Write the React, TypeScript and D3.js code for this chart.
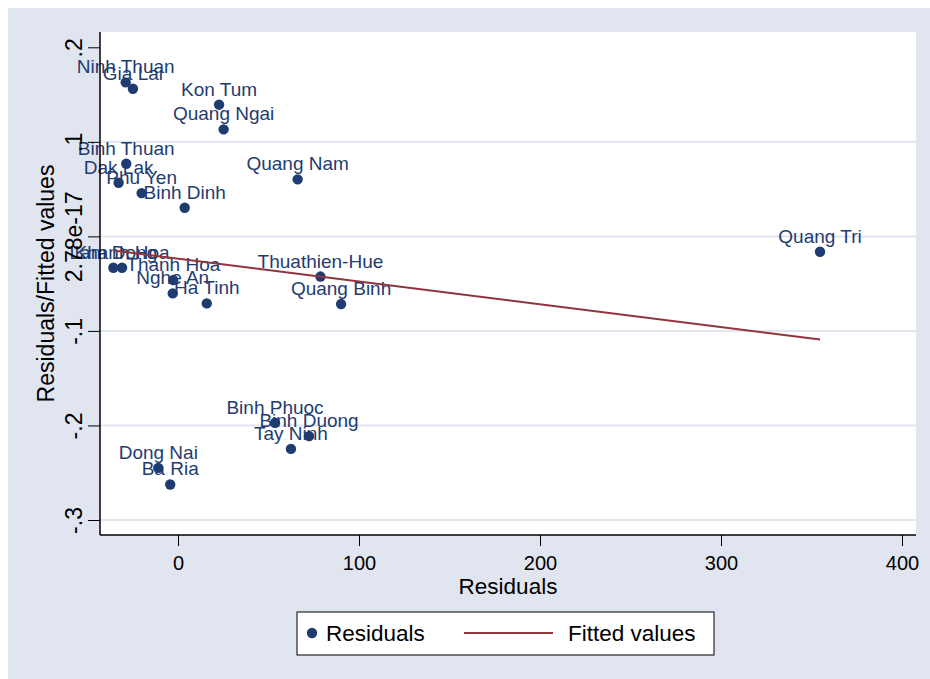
import React, { useEffect, useRef } from 'react';
import * as d3 from 'd3';

const provinces = [
  'Ninh Thuan', 'Gia Lai', 'Kon Tum', 'Quang Ngai', 'Binh Thuan', 'Dak Lak', 'Phu Yen',
  'Binh Dinh', 'Quang Nam', 'Quang Tri', 'Lam Dong', 'Khanh Hoa', 'Thanh Hoa', 'Nghe An',
  'Ha Tinh', 'Thuathien-Hue', 'Quang Binh', 'Binh Phuoc', 'Binh Duong', 'Tay Ninh',
  'Dong Nai', 'Ba Ria',
];
const residuals = [
  -28.9, -24.9, 22.7, 25.2, -28.6, -32.8, -20.1,
  3.7, 66.1, 354.7, -35.7, -30.9, -2.6, -2.9,
  15.9, 78.7, 90.1, 53.6, 72.4, 62.4,
  -10.9, -4.3,
];
const residFitted = [
  0.1629, 0.1562, 0.1393, 0.1132, 0.0768, 0.0567, 0.0458,
  0.0303, 0.0603, -0.0163, -0.0332, -0.0332, -0.0462, -0.0603,
  -0.0709, -0.0425, -0.0716, -0.1972, -0.2113, -0.2248,
  -0.2449, -0.2624,
];
const fittedX = [-35.7, 354.7];
const fittedY = [-0.015, -0.109];

const xTicks = [0, 100, 200, 300, 400];
const yTicks = [0.2, 0.1, 0, -0.1, -0.2, -0.3];
const yTickLabels = ['.2', '.1', '2.78e-17', '-.1', '-.2', '-.3'];
const yGrid = [0.1, 0, -0.1, -0.2, -0.3];

const NAVY = '#1f3c70';
const MAROON = '#90353b';
const BG = '#e1e5f0';
const FONT = '"Liberation Sans", Arial, sans-serif';

function App() {
  const ref = useRef<SVGSVGElement>(null);

  useEffect(() => {
    const width = 930;
    const height = 679;
    const plot = { left: 100, right: 916, top: 32, bottom: 535 };

    const x = d3.scaleLinear().domain([0, 400]).range([178, 902]);
    const y = d3.scaleLinear().domain([-0.3, 0.2]).range([520, 47.3]);

    const svg = d3.select(ref.current);
    svg.selectAll('*').remove();
    svg.attr('width', width).attr('height', height);

    svg.append('rect')
      .attr('x', 8).attr('y', 8)
      .attr('width', width - 8).attr('height', height - 8)
      .attr('fill', BG);

    svg.append('rect')
      .attr('x', plot.left).attr('y', plot.top)
      .attr('width', plot.right - plot.left).attr('height', plot.bottom - plot.top)
      .attr('fill', '#fff');

    svg.append('g')
      .selectAll('line')
      .data(yGrid)
      .join('line')
      .attr('x1', plot.left).attr('x2', plot.right)
      .attr('y1', (d) => y(d)).attr('y2', (d) => y(d))
      .attr('stroke', BG)
      .attr('stroke-width', 2);

    // points + labels
    const pts = provinces.map((name, i) => ({ name, rx: residuals[i], ry: residFitted[i] }));

    svg.append('g')
      .selectAll('circle')
      .data(pts)
      .join('circle')
      .attr('cx', (d) => x(d.rx))
      .attr('cy', (d) => y(d.ry))
      .attr('r', 5.2)
      .attr('fill', NAVY);

    svg.append('g')
      .selectAll('text')
      .data(pts)
      .join('text')
      .attr('x', (d) => x(d.rx))
      .attr('y', (d) => y(d.ry) - 9)
      .attr('text-anchor', 'middle')
      .attr('font-family', FONT)
      .attr('font-size', 19)
      .attr('fill', NAVY)
      .text((d) => d.name);

    // fitted line
    const line = d3.line<number>()
      .x((d) => x(d))
      .y((_, i) => y(fittedY[i]));
    svg.append('path')
      .datum(fittedX)
      .attr('d', line)
      .attr('fill', 'none')
      .attr('stroke', MAROON)
      .attr('stroke-width', 2);

    // axes
    const xAxis = svg.append('g')
      .attr('transform', `translate(0,${plot.bottom})`)
      .call(d3.axisBottom(x).tickValues(xTicks).tickSize(11).tickPadding(10).tickFormat(d3.format('d')));
    xAxis.select('.domain').remove();
    xAxis.selectAll('line').attr('stroke', '#000');
    xAxis.selectAll('text').attr('font-family', FONT).attr('font-size', 20).attr('fill', '#000');

    const yAxis = svg.append('g')
      .attr('transform', `translate(${plot.left},0)`)
      .call(d3.axisLeft(y).tickValues(yTicks).tickSize(12).tickFormat((_, i) => yTickLabels[i]));
    yAxis.select('.domain').remove();
    yAxis.selectAll('line').attr('stroke', '#000');
    yAxis.selectAll('text')
      .attr('x', null).attr('dy', null)
      .attr('transform', 'translate(-18,0) rotate(-90)')
      .attr('text-anchor', 'middle')
      .attr('font-family', FONT).attr('font-size', 23).attr('fill', '#000');

    svg.append('line')
      .attr('x1', plot.left).attr('x2', plot.left)
      .attr('y1', plot.top).attr('y2', plot.bottom)
      .attr('stroke', '#000').attr('stroke-width', 1.5);
    svg.append('line')
      .attr('x1', plot.left).attr('x2', plot.right)
      .attr('y1', plot.bottom).attr('y2', plot.bottom)
      .attr('stroke', '#000').attr('stroke-width', 1.5);

    svg.append('text')
      .attr('x', (plot.left + plot.right) / 2)
      .attr('y', 594)
      .attr('text-anchor', 'middle')
      .attr('font-family', FONT).attr('font-size', 22.5)
      .text('Residuals');

    svg.append('text')
      .attr('transform', `translate(54,${(plot.top + plot.bottom) / 2}) rotate(-90)`)
      .attr('text-anchor', 'middle')
      .attr('font-family', FONT).attr('font-size', 23)
      .text('Residuals/Fitted values');

    // legend
    const lg = svg.append('g');
    lg.append('rect')
      .attr('x', 297).attr('y', 612).attr('width', 417).attr('height', 43)
      .attr('fill', '#fff').attr('stroke', '#000').attr('stroke-width', 1);
    lg.append('circle').attr('cx', 312).attr('cy', 633).attr('r', 5.2).attr('fill', NAVY);
    lg.append('text')
      .attr('x', 326).attr('y', 641)
      .attr('font-family', FONT).attr('font-size', 22.5)
      .text('Residuals');
    lg.append('line')
      .attr('x1', 464).attr('x2', 553).attr('y1', 633).attr('y2', 633)
      .attr('stroke', MAROON).attr('stroke-width', 2);
    lg.append('text')
      .attr('x', 568).attr('y', 641)
      .attr('font-family', FONT).attr('font-size', 22.5)
      .text('Fitted values');
  }, []);

  return <svg ref={ref} style={{ position: 'absolute', left: 0, top: 0, display: 'block' }}></svg>;
}

export default App;
